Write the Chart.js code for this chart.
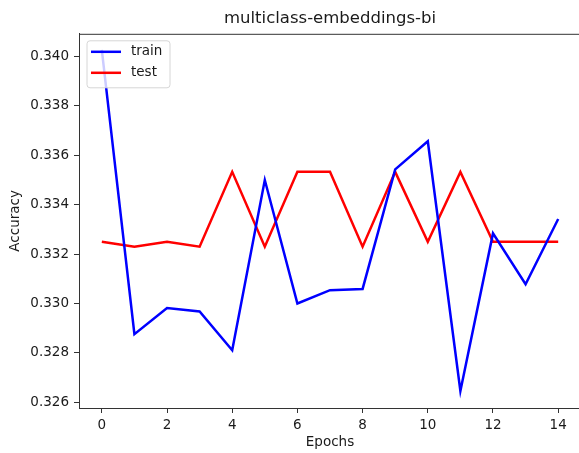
<!DOCTYPE html>
<html>
<head>
<meta charset="utf-8">
<script src="https://cdn.jsdelivr.net/npm/chart.js@4.4.1/dist/chart.umd.min.js"></script>
<style>
html, body { margin: 0; padding: 0; background: #fff; overflow: hidden; }
#wrap { width: 579px; height: 453px; overflow: hidden; }
</style>
</head>
<body>
<div id="wrap"><canvas id="chart" width="585" height="453"></canvas></div>
<script>
var epochs = [0, 1, 2, 3, 4, 5, 6, 7, 8, 9, 10, 11, 12, 13, 14];
var trainAcc = [0.34027, 0.32876, 0.32982, 0.32968, 0.32811, 0.33500, 0.33000, 0.33054,
                0.33059, 0.33543, 0.33657, 0.32646, 0.33284, 0.33078, 0.33342];
var testAcc = [0.33250, 0.33230, 0.33250, 0.33230, 0.33533, 0.33230, 0.33533, 0.33533,
               0.33230, 0.33533, 0.33250, 0.33533, 0.33250, 0.33250, 0.33250];
var xTicks = [0, 2, 4, 6, 8, 10, 12, 14];
var yTicks = [0.326, 0.328, 0.330, 0.332, 0.334, 0.336, 0.338, 0.340];

var accuracyGraph = function(){
    var canvas;
    var chartData;
    var chartOptions;
    var plugins;
    var font = { family: "DejaVu Sans", size: 13.5 };
    var ink = "#1a1a1a";
    var spine = "#333";

    function points(values){
        return epochs.map(function(e, i){ return { x: e, y: values[i] }; });
    }

    return {
        init: function(c){
            canvas = document.getElementById(c);
            this.bindData();
            this.setPlugins();
            this.setOptions();
            this.drawGraph();
        },
        bindData: function(){
            chartData = {
                datasets: [
                    { label: "train", data: points(trainAcc), borderColor: "#0000ff", backgroundColor: "#0000ff" },
                    { label: "test", data: points(testAcc), borderColor: "#ff0000", backgroundColor: "#ff0000" }
                ]
            };
        },
        setPlugins: function(){
            plugins = [{
                id: "spinesAndLegend",
                afterDraw: function(chart){
                    var ctx = chart.ctx;
                    var area = chart.chartArea;
                    // top spine (left/bottom come from the axis borders)
                    ctx.save();
                    ctx.strokeStyle = spine;
                    ctx.lineWidth = 1;
                    ctx.beginPath();
                    ctx.moveTo(area.left, area.top + 0.5);
                    ctx.lineTo(area.right, area.top + 0.5);
                    ctx.stroke();

                    // legend box, upper left
                    var x = area.left + 8, y = area.top + 7, w = 83, h = 47, r = 3;
                    ctx.beginPath();
                    ctx.moveTo(x + r, y);
                    ctx.lineTo(x + w - r, y);
                    ctx.arcTo(x + w, y, x + w, y + r, r);
                    ctx.lineTo(x + w, y + h - r);
                    ctx.arcTo(x + w, y + h, x + w - r, y + h, r);
                    ctx.lineTo(x + r, y + h);
                    ctx.arcTo(x, y + h, x, y + h - r, r);
                    ctx.lineTo(x, y + r);
                    ctx.arcTo(x, y, x + r, y, r);
                    ctx.closePath();
                    ctx.fillStyle = "rgba(255,255,255,0.8)";
                    ctx.fill();
                    ctx.strokeStyle = "#d6d6d6";
                    ctx.stroke();

                    ctx.font = font.size + "px " + font.family;
                    ctx.textBaseline = "middle";
                    ctx.textAlign = "left";
                    chart.data.datasets.forEach(function(ds, i){
                        var ly = y + 11 + i * 21;
                        ctx.strokeStyle = ds.borderColor;
                        ctx.lineWidth = 2.5;
                        ctx.beginPath();
                        ctx.moveTo(x + 4, ly);
                        ctx.lineTo(x + 34, ly);
                        ctx.stroke();
                        ctx.fillStyle = ink;
                        ctx.fillText(ds.label, x + 44, ly);
                    });
                    ctx.restore();
                }
            }];
        },
        setOptions: function(){
            chartOptions = {
                responsive: false,
                animation: false,
                layout: { padding: { left: 0, right: 4, top: 0, bottom: 0 } },
                elements: {
                    line: { borderWidth: 2.5, tension: 0 },
                    point: { radius: 0, hoverRadius: 0 }
                },
                plugins: {
                    legend: { display: false },
                    tooltip: { enabled: false },
                    title: {
                        display: true,
                        text: "multiclass-embeddings-bi",
                        fullSize: false,
                        color: ink,
                        font: { family: font.family, size: 16.5, weight: "normal" },
                        padding: { top: 9, bottom: 5 }
                    }
                },
                scales: {
                    x: {
                        type: "linear",
                        min: -0.7,
                        max: 14.7,
                        afterBuildTicks: function(scale){
                            scale.ticks = xTicks.map(function(v){ return { value: v }; });
                        },
                        afterFit: function(scale){ scale.height = 45; },
                        grid: { drawOnChartArea: false, drawTicks: true, tickLength: 5, color: spine },
                        border: { display: true, color: spine, width: 1 },
                        ticks: { color: ink, font: font, padding: 4, maxRotation: 0, autoSkip: false },
                        title: { display: true, text: "Epochs", color: ink, font: font, padding: { top: 0, bottom: 2 } }
                    },
                    y: {
                        min: 0.32577,
                        max: 0.34092,
                        afterBuildTicks: function(scale){
                            scale.ticks = yTicks.map(function(v){ return { value: v }; });
                        },
                        afterFit: function(scale){ scale.width = 79; },
                        grid: { drawOnChartArea: false, drawTicks: true, tickLength: 5, color: spine },
                        border: { display: true, color: spine, width: 1 },
                        ticks: {
                            color: ink, font: font, padding: 5, autoSkip: false,
                            callback: function(v){ return v.toFixed(3); }
                        },
                        title: { display: true, text: "Accuracy", color: ink, font: font, padding: { top: 7, bottom: 0 } }
                    }
                }
            };
        },
        drawGraph: function(){
            new Chart(canvas.getContext("2d"), {
                type: "line",
                data: chartData,
                options: chartOptions,
                plugins: plugins
            });
        }
    };
};

accuracyGraph().init("chart");
</script>
</body>
</html>
